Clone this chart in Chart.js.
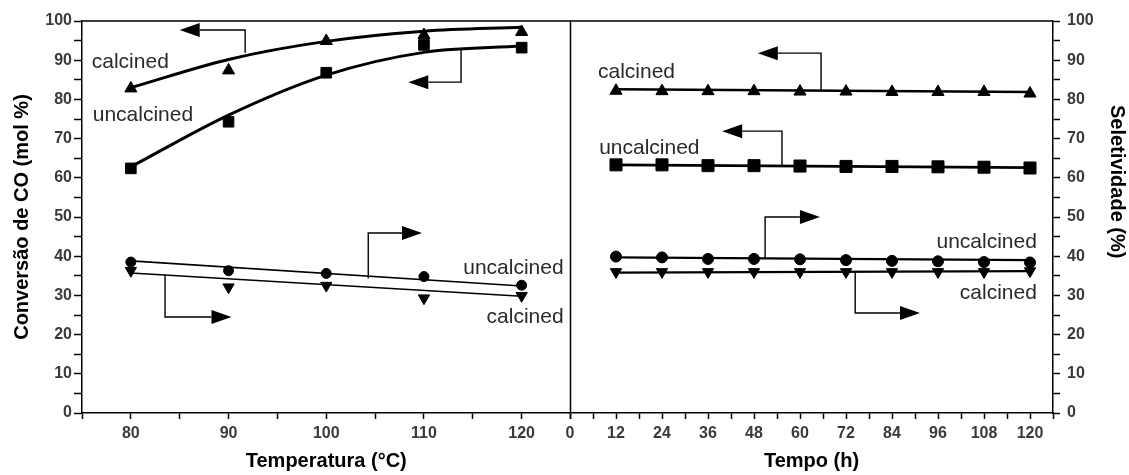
<!DOCTYPE html>
<html>
<head>
<meta charset="utf-8">
<script src="https://cdn.jsdelivr.net/npm/chart.js@4.4.1/dist/chart.umd.min.js"></script>
<style>
  html, body { margin: 0; padding: 0; background: #fff; }
  #wrap { position: relative; width: 1129px; height: 475px; overflow: hidden; background: #fff; }
  #c1 { position: absolute; left: 0; top: 0; }
  #c2 { position: absolute; left: 560px; top: 0; }
</style>
</head>
<body>
<div id="wrap">
  <canvas id="c1" width="579" height="475"></canvas>
  <canvas id="c2" width="569" height="475"></canvas>
</div>
<script>
// ---- Temperature panel ----
const temperatures = [80, 90, 100, 110, 120];
const convCalcinedT = [82.8, 87.4, 94.9, 96.4, 97.2];
const convUncalcinedT = [62.4, 74.3, 86.8, 93.9, 93.2];
const selUncalcinedT = [38.5, 36.3, 35.6, 34.8, 32.6];
const selCalcinedT = [36.3, 32.1, 32.5, 29.3, 29.9];
// trend curves through the temperature data
const fitConvCalcinedT = [83.0, 90.2, 94.8, 97.4, 98.4];
const fitConvUncalcinedT = [62.8, 76.0, 86.2, 92.0, 93.6];
const fitTempEnds = [80, 120];
const fitSelUncalcinedT = [38.8, 32.4];
const fitSelCalcinedT = [35.7, 29.8];

// ---- Time-on-stream panel ----
const hours = [12, 24, 36, 48, 60, 72, 84, 96, 108, 120];
const convCalcinedH = [82.2, 82.1, 82.1, 82.1, 82.0, 82.0, 81.9, 81.9, 81.9, 81.5];
const convUncalcinedH = [63.3, 63.3, 63.1, 63.1, 63.0, 62.9, 62.9, 62.8, 62.7, 62.5];
const selUncalcinedH = [39.9, 39.7, 39.3, 39.3, 39.2, 39.0, 38.8, 38.7, 38.5, 38.4];
const selCalcinedH = [36.0, 36.0, 36.0, 36.0, 36.0, 36.0, 36.0, 36.0, 36.0, 36.2];
const fitHourEnds = [12, 120];
const fitConvCalcinedH = [82.6, 81.9];
const fitConvUncalcinedH = [63.3, 62.6];
const fitSelUncalcinedH = [39.7, 39.0];
const fitSelCalcinedH = [35.8, 36.2];

// ---- Axis ticks ----
const percentTicks = [0, 10, 20, 30, 40, 50, 60, 70, 80, 90, 100];
const tempTicks = [80, 90, 100, 110, 120];
const hourTicks = [0, 12, 24, 36, 48, 60, 72, 84, 96, 108, 120];

const pts = (xs, ys) => xs.map((x, i) => ({ x, y: ys[i] }));

Chart.defaults.font.family = '"Liberation Sans", Arial, Helvetica, sans-serif';
Chart.defaults.color = '#222';

// Frame: top border of the plot box and the divider between panels
const framePlugin = {
  id: 'frame',
  afterDraw(chart, args, opts) {
    const { ctx, chartArea: a } = chart;
    ctx.save();
    ctx.strokeStyle = '#000';
    ctx.lineWidth = 1.5;
    ctx.beginPath();
    ctx.moveTo(a.left, a.top);
    ctx.lineTo(a.right, a.top);
    if (opts.rightEdge) {
      ctx.moveTo(a.right, a.top);
      ctx.lineTo(a.right, a.bottom);
    }
    ctx.stroke();
    if (opts.sideTitle) {
      ctx.fillStyle = '#000';
      ctx.font = 'bold 20px "Liberation Sans", Arial, sans-serif';
      ctx.textAlign = 'center';
      ctx.textBaseline = 'middle';
      ctx.translate(chart.width - 12, a.top + (a.bottom - a.top) * 0.41);
      ctx.rotate(Math.PI / 2);
      ctx.fillText(opts.sideTitle, 0, 0);
    }
    ctx.restore();
  }
};

// Bent arrows and series names, placed in data coordinates
const notesPlugin = {
  id: 'notes',
  afterDatasetsDraw(chart, args, opts) {
    const { ctx } = chart;
    const sx = chart.scales.x, sy = chart.scales.y;
    const px = v => sx.getPixelForValue(v);
    const py = v => sy.getPixelForValue(v);
    ctx.save();
    (opts.arrows || []).forEach(path => {
      const p = path.map(([x, y]) => [px(x), py(y)]);
      const n = p.length;
      const [tx, ty] = p[n - 1];
      const [bx, by] = p[n - 2];
      const len = Math.hypot(tx - bx, ty - by);
      const ux = (tx - bx) / len, uy = (ty - by) / len;
      const head = 20, half = 7;
      const hx = tx - ux * head, hy = ty - uy * head;
      ctx.strokeStyle = '#000';
      ctx.lineWidth = 1.4;
      ctx.beginPath();
      ctx.moveTo(p[0][0], p[0][1]);
      for (let i = 1; i < n - 1; i++) ctx.lineTo(p[i][0], p[i][1]);
      ctx.lineTo(hx, hy);
      ctx.stroke();
      ctx.fillStyle = '#000';
      ctx.beginPath();
      ctx.moveTo(tx, ty);
      ctx.lineTo(hx - uy * half, hy + ux * half);
      ctx.lineTo(hx + uy * half, hy - ux * half);
      ctx.closePath();
      ctx.fill();
    });
    ctx.fillStyle = '#2a2a2a';
    ctx.font = '21px "Liberation Sans", Arial, sans-serif';
    ctx.textBaseline = 'middle';
    (opts.labels || []).forEach(l => {
      ctx.textAlign = l.align;
      ctx.fillText(l.text, px(l.x), py(l.y));
    });
    ctx.restore();
  }
};

function markers(label, data, style, radius, rotation) {
  return {
    label, data, showLine: false,
    pointStyle: style, pointRadius: radius, pointRotation: rotation || 0,
    pointBackgroundColor: '#000', pointBorderColor: '#000', pointBorderWidth: 1
  };
}
function trend(label, data, width, curved) {
  return {
    label, data, showLine: true, pointRadius: 0,
    borderColor: '#000', borderWidth: width,
    cubicInterpolationMode: curved ? 'monotone' : 'default', tension: 0
  };
}

const tickFont = { size: 16, weight: 'bold' };
const tickColor = '#3a3a3a';

function percentAxis(position, tickLen, pad, withTitle, width) {
  return {
    type: 'linear', position, min: 0, max: 100,
    afterBuildTicks(s) {
      const t = [];
      for (let v = 0; v <= 100; v += 5) t.push({ value: v });
      s.ticks = t;
    },
    ticks: {
      autoSkip: false, padding: pad, color: tickColor,
      font: tickFont,
      callback: v => (percentTicks.includes(v) ? String(v) : '')
    },
    grid: { drawOnChartArea: false, drawTicks: true, tickLength: tickLen, tickColor: '#000', tickWidth: 1.5 },
    border: { display: true, color: '#000', width: 1.5 },
    title: withTitle
      ? { display: true, text: 'Conversão de CO (mol %)', color: '#000', font: { size: 20, weight: 'bold' }, padding: { top: 10, bottom: 0 } }
      : { display: false },
    afterFit(s) { s.width = width; }
  };
}

function xAxis(min, max, step, labels, title) {
  return {
    type: 'linear', position: 'bottom', min, max,
    afterBuildTicks(s) {
      const t = [];
      for (let v = min; v <= max + 1e-9; v += step) t.push({ value: v });
      s.ticks = t;
    },
    ticks: {
      autoSkip: false, maxRotation: 0, minRotation: 0, padding: 5, color: tickColor,
      font: tickFont,
      callback: v => (labels.includes(v) ? String(v) : '')
    },
    grid: { drawOnChartArea: false, drawTicks: true, tickLength: 6, tickColor: '#000', tickWidth: 1.5 },
    border: { display: true, color: '#000', width: 1.5 },
    title: { display: true, text: title, color: '#000', font: { size: 20, weight: 'bold' }, padding: { top: 0, bottom: 2 } },
    afterFit(s) { s.height = 62; }
  };
}

const common = {
  responsive: false,
  animation: false,
  devicePixelRatio: 1,
  plugins: { legend: { display: false }, tooltip: { enabled: false } },
  events: []
};

new Chart(document.getElementById('c1'), {
  type: 'scatter',
  data: {
    datasets: [
      trend('calcined conversion trend', pts(temperatures, fitConvCalcinedT), 3, true),
      trend('uncalcined conversion trend', pts(temperatures, fitConvUncalcinedT), 3, true),
      trend('uncalcined selectivity trend', pts(fitTempEnds, fitSelUncalcinedT), 1.6, false),
      trend('calcined selectivity trend', pts(fitTempEnds, fitSelCalcinedT), 1.6, false),
      markers('calcined conversion', pts(temperatures, convCalcinedT), 'triangle', 7),
      markers('uncalcined conversion', pts(temperatures, convUncalcinedT), 'rect', 7.5),
      markers('uncalcined selectivity', pts(temperatures, selUncalcinedT), 'circle', 5),
      markers('calcined selectivity', pts(temperatures, selCalcinedT), 'triangle', 6.5, 180)
    ]
  },
  options: {
    ...common,
    layout: { padding: { top: 21, right: 1, bottom: 0, left: 0 } },
    scales: {
      x: xAxis(75, 125, 5, tempTicks, 'Temperatura (°C)'),
      y: percentAxis('left', 8, 2, true, 82)
    },
    plugins: {
      ...common.plugins,
      frame: { rightEdge: true },
      notes: {
        arrows: [
          [[91.7, 91.9], [91.7, 97.7], [85.0, 97.7]],
          [[113.8, 93.0], [113.8, 84.4], [108.4, 84.4]],
          [[104.3, 34.3], [104.3, 45.9], [109.8, 45.9]],
          [[83.5, 35.4], [83.5, 24.5], [90.3, 24.5]]
        ],
        labels: [
          { text: 'calcined', x: 76.0, y: 89.5, align: 'left' },
          { text: 'uncalcined', x: 76.1, y: 76.0, align: 'left' },
          { text: 'uncalcined', x: 124.3, y: 36.9, align: 'right' },
          { text: 'calcined', x: 124.3, y: 24.5, align: 'right' }
        ]
      }
    }
  },
  plugins: [framePlugin, notesPlugin]
});

new Chart(document.getElementById('c2'), {
  type: 'scatter',
  data: {
    datasets: [
      trend('calcined conversion trend', pts(fitHourEnds, fitConvCalcinedH), 2.6, false),
      trend('uncalcined conversion trend', pts(fitHourEnds, fitConvUncalcinedH), 2.6, false),
      trend('uncalcined selectivity trend', pts(fitHourEnds, fitSelUncalcinedH), 2.4, false),
      trend('calcined selectivity trend', pts(fitHourEnds, fitSelCalcinedH), 2.4, false),
      markers('calcined conversion', pts(hours, convCalcinedH), 'triangle', 7),
      markers('uncalcined conversion', pts(hours, convUncalcinedH), 'rect', 8.5),
      markers('uncalcined selectivity', pts(hours, selUncalcinedH), 'circle', 5.5),
      markers('calcined selectivity', pts(hours, selCalcinedH), 'triangle', 6.5, 180)
    ]
  },
  options: {
    ...common,
    layout: { padding: { top: 21, right: 0, bottom: 0, left: 10 } },
    scales: {
      x: xAxis(0, 126, 6, hourTicks, 'Tempo (h)'),
      y: percentAxis('right', 7, 7, false, 76)
    },
    plugins: {
      ...common.plugins,
      frame: { rightEdge: false, sideTitle: 'Seletividade (%)' },
      notes: {
        arrows: [
          [[65.5, 82.4], [65.5, 91.8], [49.0, 91.8]],
          [[55.3, 63.0], [55.3, 71.9], [39.7, 71.9]],
          [[50.9, 39.3], [50.9, 50.0], [65.2, 50.0]],
          [[74.4, 35.9], [74.4, 25.5], [91.3, 25.5]]
        ],
        labels: [
          { text: 'calcined', x: 7.3, y: 87.0, align: 'left' },
          { text: 'uncalcined', x: 7.6, y: 67.6, align: 'left' },
          { text: 'uncalcined', x: 121.8, y: 43.6, align: 'right' },
          { text: 'calcined', x: 121.8, y: 30.6, align: 'right' }
        ]
      }
    }
  },
  plugins: [framePlugin, notesPlugin]
});
</script>
</body>
</html>
